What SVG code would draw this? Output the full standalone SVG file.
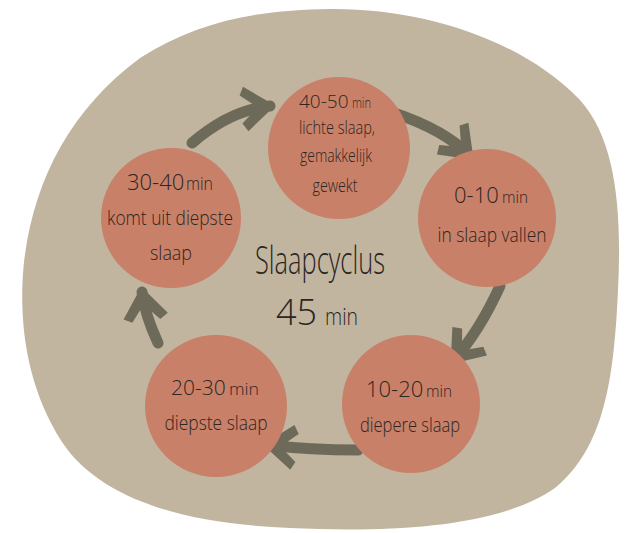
<svg xmlns="http://www.w3.org/2000/svg" width="632" height="533" viewBox="0 0 632 533">
<style>
.bg{fill:#C1B5A0}
.c{fill:#C98068}
.t{font-family:"Open Sans","DejaVu Sans",sans-serif;font-weight:300;fill:#2b2622;text-anchor:middle}
.s{text-anchor:start}
.arr{fill:none;stroke:#6E6A59;stroke-width:11;stroke-linecap:round}
</style>
<defs>
<marker id="head" markerUnits="userSpaceOnUse" markerWidth="50" markerHeight="50" refX="0" refY="0" viewBox="-34 -24 42 48" orient="auto">
<path d="M5,0 L-24,-21 L-28,-13 L-12,0 L-28,14 L-23,22 Z" fill="#6E6A59"/>
</marker>
</defs>
<rect width="632" height="533" fill="#fff"/>
<path class="bg" d="M330,9 C420,8 520,38 580,100 C616,140 622,210 618,290 C614,380 604,448 555,488 C495,530 380,532 290,528 C190,524 102,502 62,442 C26,386 18,320 24,262 C34,180 70,110 140,58 C200,20 260,10 330,9 Z"/>
<g id="connectors">
<path class="arr" d="M192,143 Q230,110 270,106" marker-end="url(#head)"/>
<path class="arr" d="M394,113 Q445,130 470,156" marker-end="url(#head)"/>
<path class="arr" d="M500,286 Q480,330 454,360" marker-end="url(#head)"/>
<path class="arr" d="M358,450 Q310,450 268,445" marker-end="url(#head)"/>
<path class="arr" d="M158,343 Q145,315 142,292" marker-end="url(#head)"/>
</g>
<g id="n4050">
<circle class="c" cx="339" cy="148" r="71"/>
<text class="t s" x="299" y="108" font-size="19">40-50</text>
<text class="t s" x="352" y="108" font-size="14" textLength="19" lengthAdjust="spacingAndGlyphs">min</text>
<text class="t" x="337" y="134" font-size="18" textLength="76" lengthAdjust="spacingAndGlyphs">lichte slaap,</text>
<text class="t" x="336" y="162" font-size="18" textLength="72" lengthAdjust="spacingAndGlyphs">gemakkelijk</text>
<text class="t" x="335" y="192" font-size="18" textLength="45" lengthAdjust="spacingAndGlyphs">gewekt</text>
</g>
<g id="n010">
<circle class="c" cx="487" cy="218" r="69"/>
<text class="t s" x="454" y="203" font-size="22">0-10</text>
<text class="t s" x="502" y="203" font-size="16" textLength="26" lengthAdjust="spacingAndGlyphs">min</text>
<text class="t" x="492" y="242" font-size="20" textLength="109" lengthAdjust="spacingAndGlyphs">in slaap vallen</text>
</g>
<g id="n3040">
<circle class="c" cx="171" cy="218" r="70"/>
<text class="t s" x="127" y="190" font-size="22">30-40</text>
<text class="t s" x="186" y="190" font-size="18" textLength="27" lengthAdjust="spacingAndGlyphs">min</text>
<text class="t" x="170" y="225" font-size="20" textLength="126" lengthAdjust="spacingAndGlyphs">komt uit diepste</text>
<text class="t" x="171" y="260" font-size="20" textLength="42" lengthAdjust="spacingAndGlyphs">slaap</text>
</g>
<g id="n1020">
<circle class="c" cx="411" cy="404" r="69"/>
<text class="t s" x="366" y="397" font-size="22">10-20</text>
<text class="t s" x="426" y="397" font-size="16" textLength="26" lengthAdjust="spacingAndGlyphs">min</text>
<text class="t" x="410" y="432" font-size="20" textLength="100" lengthAdjust="spacingAndGlyphs">diepere slaap</text>
</g>
<g id="n2030">
<circle class="c" cx="216" cy="406" r="71"/>
<text class="t s" x="171" y="395" font-size="21">20-30</text>
<text class="t s" x="229" y="395" font-size="16" textLength="30" lengthAdjust="spacingAndGlyphs">min</text>
<text class="t" x="216" y="430" font-size="20" textLength="103" lengthAdjust="spacingAndGlyphs">diepste slaap</text>
</g>
<g id="center">
<text class="t" x="320" y="274" font-size="38" textLength="130" lengthAdjust="spacingAndGlyphs">Slaapcyclus</text>
<text class="t s" x="276" y="325" font-size="36">45</text>
<text class="t s" x="325" y="325" font-size="24" textLength="33" lengthAdjust="spacingAndGlyphs">min</text>
</g>
</svg>
